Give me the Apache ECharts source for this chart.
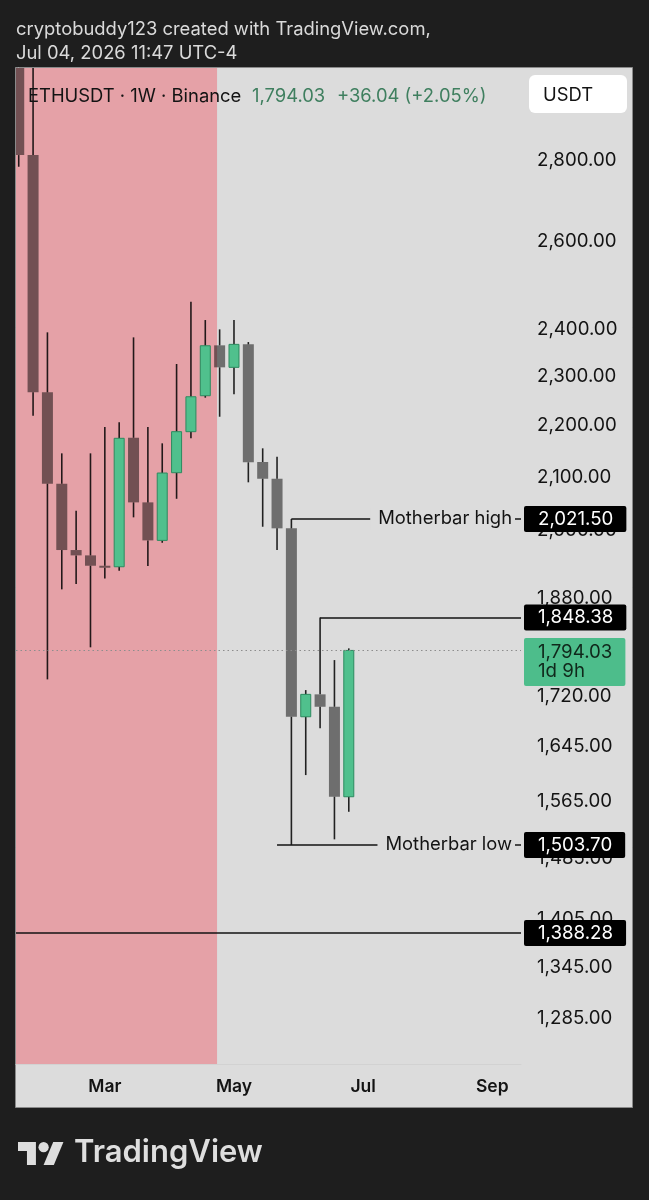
<!DOCTYPE html>
<html>
<head>
<meta charset="utf-8">
<title>ETHUSDT 1W</title>
<script src="https://cdn.jsdelivr.net/npm/echarts@6/dist/echarts.min.js"></script>
<style>
  html, body { margin: 0; padding: 0; background: #1e1e1e; }
  #chart { width: 649px; height: 1200px; }
</style>
</head>
<body>
<div id="chart"></div>
<script>
// weekly candles (week start dates)
const weeks = ['2026-01-19', '2026-01-26', '2026-02-02', '2026-02-09', '2026-02-16', '2026-02-23',
  '2026-03-02', '2026-03-09', '2026-03-16', '2026-03-23', '2026-03-30', '2026-04-06',
  '2026-04-13', '2026-04-20', '2026-04-27', '2026-05-04', '2026-05-11', '2026-05-18',
  '2026-05-25', '2026-06-01', '2026-06-08', '2026-06-15', '2026-06-22', '2026-06-29']
const opens = [3180, 2812.7, 2267.7, 2087.1, 1965.2, 1955.7, 1937.4, 1935.6, 2176.1, 2052.1, 1982.5, 2108.1,
  2188.1, 2260.7, 2366.5, 2319.7, 2368.6, 2128.7, 2096.6, 2004.3, 1689.2, 1723.9, 1704.6, 1570.9]
const highs = [3260, 3060, 2394.6, 2145.5, 2036.6, 2145.5, 2197.4, 2206.8, 2383.7, 2197.4, 2165.1, 2326.7,
  2462.0, 2421.5, 2401.1, 2421.5, 2373.6, 2155.3, 2138.9, 2021.5, 1730.6, 1848.38, 1778.4, 1797.4]
const lows = [2783.0, 2220.0, 1747.5, 1896.3, 1905.5, 1799.1, 1915.3, 1928.6, 2024.4, 1936.9, 1978.2, 2058.8,
  2175.0, 2256.7, 2218.0, 2263.6, 2089.8, 2007.2, 1965.2, 1503.7, 1602.1, 1671.5, 1511.3, 1549.6]
const closes = [2812.7, 2267.7, 2087.1, 1965.2, 1955.7, 1937.4, 1936.0, 2175.0, 2052.1, 1982.5, 2107.5, 2188.1,
  2258.6, 2365.6, 2319.7, 2368.6, 2128.1, 2096.6, 2004.3, 1689.2, 1723.9, 1704.6, 1570.9, 1794.03]

const priceTicks = [2800, 2600, 2400, 2300, 2200, 2100, 2000, 1880, 1720, 1645, 1565, 1485, 1405, 1345, 1285]
const monthTickWeeks = [6, 15, 24, 33]
const monthLabels = ['Mar', 'May', 'Jul', 'Sep']

const motherHigh = 2021.50
const motherLow = 1503.70
const swingHigh = 1848.38
const supportLevel = 1388.28
const lastPrice = 1794.03
const countdown = '1d 9h'
const shadedUntil = 13.82 // week index where the red zone ends

const FONT = 'Inter, "Noto Sans", sans-serif'
const X_MIN = -0.19
const X_MAX = 35
const PLOT_BG = '#dcdcdc'
const INK = '#131313'

const fmt = v => Number(v).toLocaleString('en-US', { minimumFractionDigits: 2, maximumFractionDigits: 2 })

const candles = weeks.map((w, i) => [i, opens[i], closes[i], lows[i], highs[i]])

function drawCandle(params, api) {
  const i = api.value(0)
  const o = api.value(1)
  const c = api.value(2)
  const pOpen = api.coord([i, o])
  const pClose = api.coord([i, c])
  const yLow = api.coord([i, api.value(3)])[1]
  const yHigh = api.coord([i, api.value(4)])[1]
  const x = pOpen[0]
  const top = Math.min(pOpen[1], pClose[1])
  const h = Math.max(Math.abs(pOpen[1] - pClose[1]), 2)
  const wick = { stroke: 'rgba(0,0,0,0.85)', lineWidth: 1.6 }
  const body = c > o
    ? { type: 'rect', shape: { x: x - 5, y: top, width: 10, height: h }, style: { fill: '#50c08d', stroke: '#2c8a5f', lineWidth: 1 } }
    : { type: 'rect', shape: { x: x - 5.5, y: top, width: 11, height: h }, style: { fill: 'rgba(0,0,0,0.5)' } }
  return {
    type: 'group',
    children: [
      { type: 'line', shape: { x1: x, y1: yHigh, x2: x, y2: top }, style: wick },
      { type: 'line', shape: { x1: x, y1: top + h, x2: x, y2: yLow }, style: wick },
      body
    ]
  }
}

const boxLabel = (text, bg, color) => ({
  show: true,
  position: 'right',
  distance: 3,
  formatter: text,
  backgroundColor: bg,
  color: color,
  fontFamily: FONT,
  fontSize: 18.7,
  lineHeight: 18,
  padding: [4, 13, 4, 14],
  borderRadius: 2
})

const noteLabel = text => ({
  show: true,
  position: 'left',
  distance: 6,
  formatter: text,
  color: INK,
  fontFamily: FONT,
  fontSize: 18.4,
  backgroundColor: PLOT_BG,
  padding: [2, 3, 2, 8]
})

const chart = echarts.init(document.getElementById('chart'))

chart.setOption({
  backgroundColor: '#1e1e1e',
  animation: false,
  grid: { left: 16, right: 128, top: 68, bottom: 136 },
  xAxis: {
    type: 'value',
    min: X_MIN,
    max: X_MAX,
    axisLine: { show: true, lineStyle: { color: '#d2d2d2' } },
    axisTick: { show: false },
    splitLine: { show: false },
    axisLabel: {
      customValues: monthTickWeeks,
      formatter: v => monthLabels[monthTickWeeks.indexOf(v)] || '',
      margin: 14,
      color: INK,
      fontFamily: FONT,
      fontSize: 17.5,
      fontWeight: 600
    }
  },
  yAxis: {
    type: 'log',
    position: 'right',
    min: 1232.5,
    max: 3044,
    axisLine: { show: true, lineStyle: { color: '#c6c6c6' } },
    axisTick: { show: false },
    splitLine: { show: false },
    axisLabel: {
      customValues: priceTicks,
      formatter: fmt,
      margin: 16,
      padding: [5, 0, 0, 0],
      color: INK,
      fontFamily: FONT,
      fontSize: 18.7
    }
  },
  graphic: [
    { type: 'rect', z: -10, silent: true, shape: { x: 15.5, y: 67.5, width: 617, height: 1040 }, style: { fill: PLOT_BG, stroke: '#8a8a8a', lineWidth: 1 } },
    { type: 'text', x: 16, y: 29, style: { text: 'cryptobuddy123 created with TradingView.com,', fill: '#dadada', fontFamily: FONT, fontSize: 18.4, verticalAlign: 'middle' } },
    { type: 'text', x: 16, y: 53, style: { text: 'Jul 04, 2026 11:47 UTC-4', fill: '#dadada', fontFamily: FONT, fontSize: 18.4, verticalAlign: 'middle' } },
    { type: 'text', z: 10, x: 28, y: 96, style: { text: 'ETHUSDT · 1W · Binance', fill: INK, fontFamily: FONT, fontSize: 18.4, verticalAlign: 'middle' } },
    { type: 'text', z: 10, x: 252, y: 96, style: { text: fmt(lastPrice), fill: '#3f7f5f', fontFamily: FONT, fontSize: 18.4, verticalAlign: 'middle' } },
    { type: 'text', z: 10, x: 337, y: 96, style: { text: '+36.04 (+2.05%)', fill: '#3f7f5f', fontFamily: FONT, fontSize: 18.4, verticalAlign: 'middle' } },
    { type: 'rect', z: 10, shape: { x: 529, y: 75, width: 98, height: 38, r: 6 }, style: { fill: '#ffffff' } },
    { type: 'text', z: 11, x: 543, y: 95, style: { text: 'USDT', fill: INK, fontFamily: FONT, fontSize: 18.4, verticalAlign: 'middle' } },
    {
      type: 'group', x: 18, y: 1136.9, scaleX: 1.28, scaleY: 1.28,
      children: [
        { type: 'polygon', shape: { points: [[14, 22], [7, 22], [7, 11], [0, 11], [0, 4], [14, 4]] }, style: { fill: '#dedede' } },
        { type: 'polygon', shape: { points: [[28, 22], [20, 22], [27.5, 4], [35.5, 4]] }, style: { fill: '#dedede' } },
        { type: 'circle', shape: { cx: 20, cy: 8, r: 4 }, style: { fill: '#dedede' } }
      ]
    },
    { type: 'text', x: 74, y: 1153, style: { text: 'TradingView', fill: '#dedede', fontFamily: FONT, fontSize: 31, fontWeight: 600, verticalAlign: 'middle' } }
  ],
  series: [
    {
      type: 'line',
      z: 1,
      data: [],
      silent: true,
      markArea: {
        silent: true,
        itemStyle: { color: '#e5a1a7' },
        data: [[{ xAxis: X_MIN }, { xAxis: shadedUntil }]]
      }
    },
    {
      type: 'custom',
      z: 3,
      clip: true,
      renderItem: drawCandle,
      encode: { x: 0, y: [1, 2, 3, 4] },
      data: candles,
      markLine: {
        silent: true,
        symbol: ['none', 'none'],
        label: { show: false },
        data: [
          [{ coord: [X_MIN, lastPrice], lineStyle: { color: '#8d8d8d', width: 1, type: [1.5, 3] } }, { coord: [X_MAX, lastPrice] }],
          [{ coord: [19, motherHigh], lineStyle: { color: INK, width: 1.5, type: 'solid' } }, { coord: [X_MAX, motherHigh] }],
          [{ coord: [21, swingHigh], lineStyle: { color: INK, width: 1.5, type: 'solid' } }, { coord: [X_MAX, swingHigh] }],
          [{ coord: [18, motherLow], lineStyle: { color: INK, width: 1.5, type: 'solid' } }, { coord: [X_MAX, motherLow] }],
          [{ coord: [X_MIN, supportLevel], lineStyle: { color: INK, width: 1.5, type: 'solid' } }, { coord: [X_MAX, supportLevel] }]
        ]
      },
      markPoint: {
        silent: true,
        symbol: 'circle',
        symbolSize: 0,
        data: [
          { coord: [X_MAX, motherHigh], label: noteLabel('Motherbar high') },
          { coord: [X_MAX, motherLow], label: noteLabel('Motherbar low') },
          { coord: [X_MAX, motherHigh], label: boxLabel(fmt(motherHigh), '#000000', '#ffffff') },
          { coord: [X_MAX, swingHigh], label: boxLabel(fmt(swingHigh), '#000000', '#ffffff') },
          { coord: [X_MAX, motherLow], label: boxLabel(fmt(motherLow), '#000000', '#ffffff') },
          { coord: [X_MAX, supportLevel], label: boxLabel(fmt(supportLevel), '#000000', '#ffffff') },
          {
            coord: [X_MAX, lastPrice],
            label: Object.assign(boxLabel(fmt(lastPrice) + '\n' + countdown, '#4dbd8b', '#10281b'), {
              lineHeight: 19,
              padding: [3, 13, 7, 14],
              offset: [0, 11.5]
            })
          }
        ]
      }
    }
  ]
})
</script>
</body>
</html>
